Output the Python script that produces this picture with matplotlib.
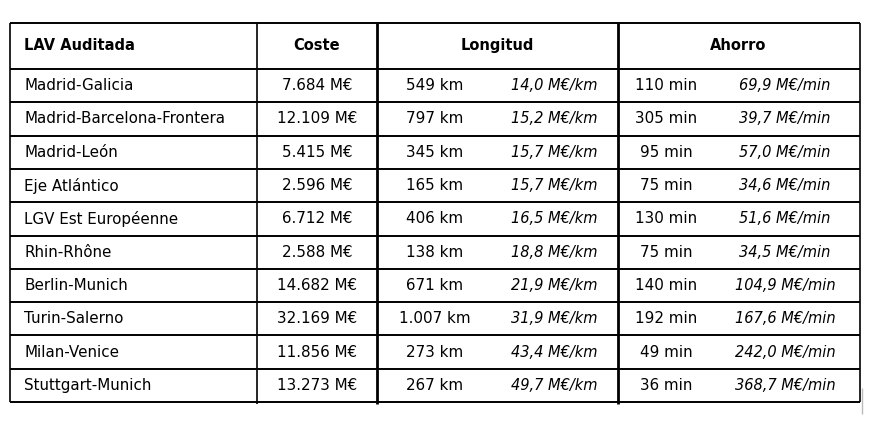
import matplotlib.pyplot as plt

routes = ['Madrid-Galicia', 'Madrid-Barcelona-Frontera', 'Madrid-León', 'Eje Atlántico',
          'LGV Est Européenne', 'Rhin-Rhône', 'Berlin-Munich', 'Turin-Salerno',
          'Milan-Venice', 'Stuttgart-Munich']
coste = [7684, 12109, 5415, 2596, 6712, 2588, 14682, 32169, 11856, 13273]
longitud = [549, 797, 345, 165, 406, 138, 671, 1007, 273, 267]
coste_km = [14.0, 15.2, 15.7, 15.7, 16.5, 18.8, 21.9, 31.9, 43.4, 49.7]
ahorro = [110, 305, 95, 75, 130, 75, 140, 192, 49, 36]
coste_min = [69.9, 39.7, 57.0, 34.6, 51.6, 34.5, 104.9, 167.6, 242.0, 368.7]
headers = ['LAV Auditada', 'Coste', 'Longitud', 'Ahorro']


def miles(v):
    return '{:,}'.format(v).replace(',', '.')


def dec(v):
    return '{:.1f}'.format(v).replace('.', ',')


fig = plt.figure(figsize=(8.72, 4.25), dpi=100)
ax = fig.add_axes([0, 0, 1, 1])
ax.set_xlim(0, 872)
ax.set_ylim(425, 0)
ax.axis('off')

# grid of the table (pixel coordinates)
left, right = 10, 860
top, head = 22.5, 69
rowh = 33.3
n = len(routes)
bottom = head + n * rowh
cols = [257, 377, 618]

ax.hlines([top, head] + [head + (i + 1) * rowh for i in range(n)], left, right,
          color='black', lw=1.4)
ax.vlines([left, right], top, bottom, color='black', lw=1.2)
ax.vlines(cols[0], top, bottom + 2, color='black', lw=1.2)
ax.vlines(cols[1:], top, bottom + 2, color='black', lw=2.0)
ax.vlines(862, 388, 414, color='#bbbbbb', lw=1)

fs = 10.9
fh = 10.5
yh = (top + head) / 2
ax.text(24, yh, headers[0], fontsize=fh, weight='semibold', va='center', ha='left')
ax.text(317, yh, headers[1], fontsize=fh, weight='semibold', va='center', ha='center')
ax.text(497, yh, headers[2], fontsize=fh, weight='semibold', va='center', ha='center')
ax.text(738, yh, headers[3], fontsize=fh, weight='semibold', va='center', ha='center')

for i in range(n):
    y = head + (i + 0.5) * rowh
    ax.text(24, y, routes[i], fontsize=fs, va='center', ha='left')
    ax.text(317, y, miles(coste[i]) + ' M€', fontsize=fs, va='center', ha='center')
    ax.text(435, y, miles(longitud[i]) + ' km', fontsize=fs, va='center', ha='center')
    ax.text(554, y, dec(coste_km[i]) + ' M€/km', fontsize=10.5, va='center', ha='center',
            style='italic')
    ax.text(666, y, str(ahorro[i]) + ' min', fontsize=fs, va='center', ha='center')
    ax.text(785, y, dec(coste_min[i]) + ' M€/min', fontsize=10.5, va='center', ha='center',
            style='italic')

plt.savefig('out.png', dpi=100)
